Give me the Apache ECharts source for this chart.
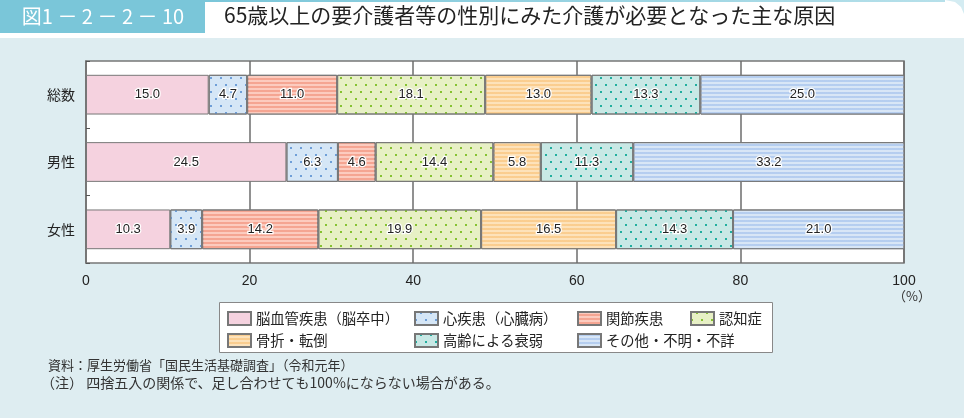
<!DOCTYPE html>
<html><head><meta charset="utf-8">
<script src="https://cdn.jsdelivr.net/npm/echarts@6/dist/echarts.min.js"></script>
<style>html,body{margin:0;padding:0;background:#fff}#c{width:964px;height:418px}</style>
</head><body><div id="c"></div>
<script>
const categories = ['総数', '男性', '女性'];
const seriesNames = ['脳血管疾患（脳卒中）', '心疾患（心臓病）', '関節疾患', '認知症', '骨折・転倒', '高齢による衰弱', 'その他・不明・不詳'];
const cerebro = [15.0, 24.5, 10.3];
const heart = [4.7, 6.3, 3.9];
const joint = [11.0, 4.6, 14.2];
const dementia = [18.1, 14.4, 19.9];
const fracture = [13.0, 5.8, 16.5];
const frailty = [13.3, 11.3, 14.3];
const other = [25.0, 33.2, 21.0];
const xTicks = [0, 20, 40, 60, 80, 100];

const values = [cerebro, heart, joint, dementia, fracture, frailty, other];
const JP = '"Noto Sans CJK JP", sans-serif';
const NUM = '"Liberation Sans", Arial, sans-serif';

const dots = (c) => ({ symbol: 'rect', symbolSize: 1, color: c, dashArrayX: [[2, 8], [0, 5, 2, 3]], dashArrayY: [2, 5] });
const stripes = (c) => ({ symbol: 'rect', symbolSize: 1, color: c, dashArrayX: [1, 0], dashArrayY: [2, 2] });
const styles = [
  { color: '#f5d2df', decal: null },
  { color: '#d5e6f6', decal: dots('#6f9fd8') },
  { color: '#f5a592', decal: stripes('rgba(255,220,210,0.7)') },
  { color: '#e7f0c5', decal: dots('#86c232') },
  { color: '#fde2ba', decal: stripes('rgba(250,196,125,0.7)') },
  { color: '#c8e8e5', decal: dots('#22ae9f') },
  { color: '#d8e6f6', decal: stripes('rgba(170,198,238,0.75)') }
];

const series = seriesNames.map((n, i) => {
  const itemStyle = { color: styles[i].color, borderColor: '#777', borderWidth: 1 };
  if (styles[i].decal) itemStyle.decal = styles[i].decal;
  return {
    name: n, type: 'bar', stack: 'total', barWidth: '59%',
    data: values[i],
    itemStyle: itemStyle,
    label: { show: true, position: 'inside', formatter: p => p.value.toFixed(1), color: '#222', fontFamily: NUM, fontSize: 13, textBorderColor: '#fff', textBorderWidth: 2.5 }
  };
});

const cols = [[0, 4], [1, 5], [2, 6], [3]];
const colX = [227, 414, 577, 690];
const legends = cols.map((idxs, k) => ({
  orient: 'vertical', left: colX[k], top: 311, itemWidth: 23, itemHeight: 13, itemGap: 7,
  data: idxs.map(i => seriesNames[i]), selectedMode: false,
  textStyle: { fontFamily: JP, fontSize: 14.3, color: '#222', lineHeight: 14 },
  padding: 0, icon: 'rect'
}));

const chart = echarts.init(document.getElementById('c'));
chart.setOption({
  animation: false,
  backgroundColor: '#ffffff',
  graphic: [
    { type: 'rect', shape: { x: 0, y: 38, width: 964, height: 380 }, style: { fill: '#deedf1' }, z: -10 },
    { type: 'rect', shape: { x: 0, y: 0, width: 205, height: 33 }, style: { fill: '#7ac6d9' }, z: -5 },
    { type: 'rect', shape: { x: 205, y: 0, width: 740, height: 2 }, style: { fill: { type: 'linear', x: 0, y: 0, x2: 1, y2: 0, colorStops: [{ offset: 0, color: '#7ac6d9' }, { offset: 1, color: '#b6e0ea' }] } }, z: -5 },
    { type: 'polygon', shape: { points: [[945, 0], [955, 2], [961, 7], [964, 14], [964, 0]] }, style: { fill: '#d4ecf2' }, z: -5 },
    { type: 'text', x: 103, y: 6, style: { text: '図1 － 2 － 2 － 10', fill: '#ffffff', font: '20px ' + JP, textAlign: 'center' } },
    { type: 'text', x: 224, y: 5, style: { text: '65歳以上の要介護者等の性別にみた介護が必要となった主な原因', fill: '#222', font: '21px ' + JP } },
    { type: 'rect', shape: { x: 219.5, y: 302.5, width: 553, height: 50 }, style: { fill: '#fff', stroke: '#888', lineWidth: 1 }, z: -1 },
    { type: 'text', x: 893, y: 290, style: { text: '（%）', fill: '#333', font: '13px ' + JP } },
    { type: 'text', x: 48, y: 359, style: { text: '資料：厚生労働省「国民生活基礎調査」（令和元年）', fill: '#333', font: '13px ' + JP } },
    { type: 'text', x: 41, y: 376, style: { text: '（注） 四捨五入の関係で、足し合わせても100%にならない場合がある。', fill: '#333', font: '14px ' + JP } }
  ],
  legend: legends,
  grid: { left: 86, right: 60, top: 61, bottom: 155, show: true, backgroundColor: '#fff', borderColor: '#777', borderWidth: 1.5 },
  xAxis: {
    type: 'value', min: 0, max: 100, interval: 20,
    axisLine: { show: false }, axisTick: { show: false },
    axisLabel: { margin: 11, color: '#222', fontFamily: NUM, fontSize: 14, formatter: v => xTicks.includes(v) ? String(v) : '' },
    splitLine: { show: true, lineStyle: { color: '#6d6d6d', width: 1.5 } }
  },
  yAxis: {
    type: 'category', data: categories, inverse: true,
    axisLine: { show: true, lineStyle: { color: '#777', width: 1.5 } },
    axisTick: { show: true, inside: true, length: 4, lineStyle: { color: '#555' } },
    axisLabel: { margin: 11, color: '#222', fontFamily: JP, fontSize: 14 }
  },
  series: series
});
</script></body></html>
